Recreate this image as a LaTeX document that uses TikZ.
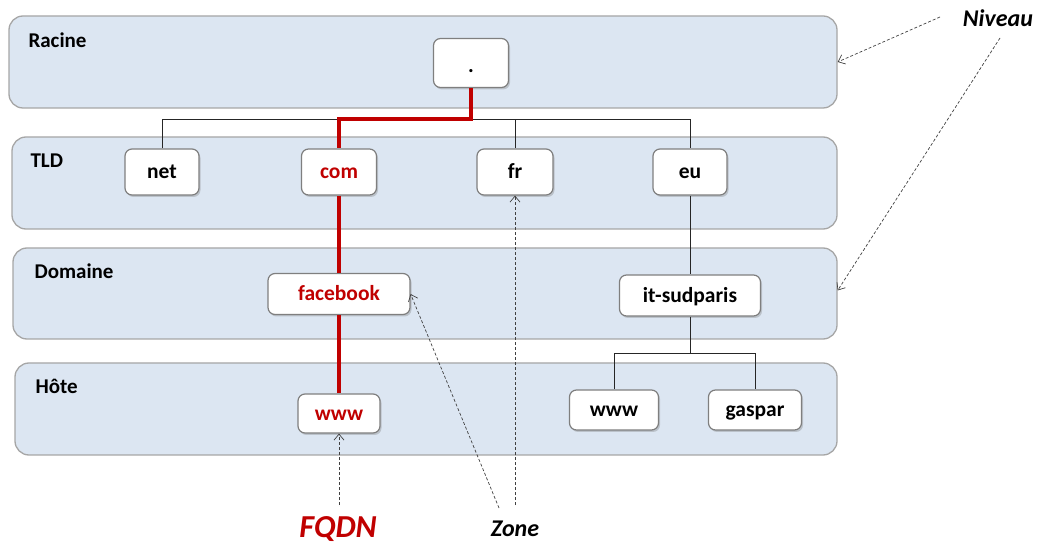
\documentclass[tikz,border=0pt]{standalone}
\usepackage{fontspec}
\setmainfont{Carlito}
\usetikzlibrary{shadows,arrows.meta}

\definecolor{bandfill}{HTML}{DCE6F2}
\definecolor{bandline}{HTML}{A6A6A6}
\definecolor{boxline}{HTML}{7F7F7F}
\definecolor{rouge}{HTML}{C00000}

\begin{document}
\begin{tikzpicture}[x=1pt,y=-1pt,
    band/.style={draw=bandline,fill=bandfill,line width=1.3pt,rounded corners=14pt,inner sep=0pt},
    niveau/.style={anchor=base west,font=\fontsize{21}{24}\selectfont\bfseries},
    nom/.style={draw=boxline,fill=white,line width=1.2pt,rounded corners=7pt,inner sep=0pt,
      drop shadow={shadow xshift=1.5pt,shadow yshift=-2pt,opacity=0.35},
      text height=16pt,text depth=2pt,font=\fontsize{21.5}{24}\selectfont\bfseries},
    lien/.style={draw=black!85,line width=0.8pt},
    chemin/.style={draw=rouge,line width=3.5pt},
    fleche/.style={draw=black!75,dashed,dash pattern=on 3pt off 2pt,line width=0.7pt,
      -{Straight Barb[length=6pt,width=10pt,line width=0.7pt]}},
    note/.style={font=\fontsize{24}{28}\selectfont\bfseries\itshape}]
  \useasboundingbox (0,0) rectangle (1037,545);

  % niveaux
  \node[band,minimum width=828pt,minimum height=92pt] (racine) at (423,62) {};
  \node[band,minimum width=825pt,minimum height=92pt] (tld) at (424.5,183) {};
  \node[band,minimum width=824pt,minimum height=91pt] (domaine) at (425,293.5) {};
  \node[band,minimum width=822pt,minimum height=92pt] (hote) at (426,409) {};
  \node[niveau] (lracine) at (25,48) {Racine};
  \node[niveau] (ltld) at (27,168) {TLD};
  \node[niveau] (ldomaine) at (31,279) {Domaine};
  \node[niveau] (lhote) at (32,394) {Hôte};

  % noms
  \node[nom,minimum width=75pt,minimum height=49pt,text height=20pt,text depth=0pt] (root) at (471,63) {.};
  \node[nom,minimum width=74pt,minimum height=46pt] (net) at (162,172) {net};
  \node[nom,minimum width=75pt,minimum height=46pt,text=rouge] (com) at (339,172) {com};
  \node[nom,minimum width=76pt,minimum height=46pt] (fr) at (515,172) {fr};
  \node[nom,minimum width=74pt,minimum height=46pt] (eu) at (690,172) {eu};
  \node[nom,minimum width=142pt,minimum height=41pt,text=rouge] (facebook) at (339,294) {facebook};
  \node[nom,minimum width=141pt,minimum height=41pt] (itsp) at (690,295.5) {it-sudparis};
  \node[nom,minimum width=82pt,minimum height=39pt,text=rouge] (wwwa) at (339,413.5) {www};
  \node[nom,minimum width=89pt,minimum height=40pt] (wwwb) at (614,410) {www};
  \node[nom,minimum width=93pt,minimum height=40pt] (gaspar) at (755,410) {gaspar};

  % liens
  \coordinate (tldbar) at (0,119);
  \coordinate (hbar) at (0,353);
  \draw[lien] (net.north) |- (tldbar -| eu.north) -- (eu.north);
  \draw[lien] (fr.north) -- (fr.north |- tldbar);
  \draw[lien] (eu.south) -- (itsp.north);
  \draw[lien] (wwwb.north) |- (hbar -| gaspar.north) -- (gaspar.north);
  \draw[lien] (itsp.south) -- (itsp.south |- hbar);
  \draw[chemin] (root.south) |- (com.north |- tldbar) -- (com.north);
  \draw[chemin] (com.south) -- (facebook.north);
  \draw[chemin] (facebook.south) -- (wwwa.north);

  % annotations
  \node[note] (niv) at (998,18) {Niveau};
  \node[note,text=rouge,font=\fontsize{32}{36}\selectfont\bfseries\itshape] (fqdn) at (338,529) {FQDN};
  \node[note] (zone) at (515,529) {Zone};
  \coordinate (n1) at (940,17);
  \coordinate (n2) at (1000,38);
  \coordinate (f1) at (339,505);
  \coordinate (z1) at (499,508);
  \coordinate (z2) at (515,505);
  \draw[fleche] (n1) -- (racine.east);
  \draw[fleche] (n2) -- ([yshift=3pt]domaine.east);
  \draw[fleche] (f1) -- (wwwa.south);
  \draw[fleche] (z1) -- (facebook.east);
  \draw[fleche] (z2) -- (fr.south);
\end{tikzpicture}
\end{document}
